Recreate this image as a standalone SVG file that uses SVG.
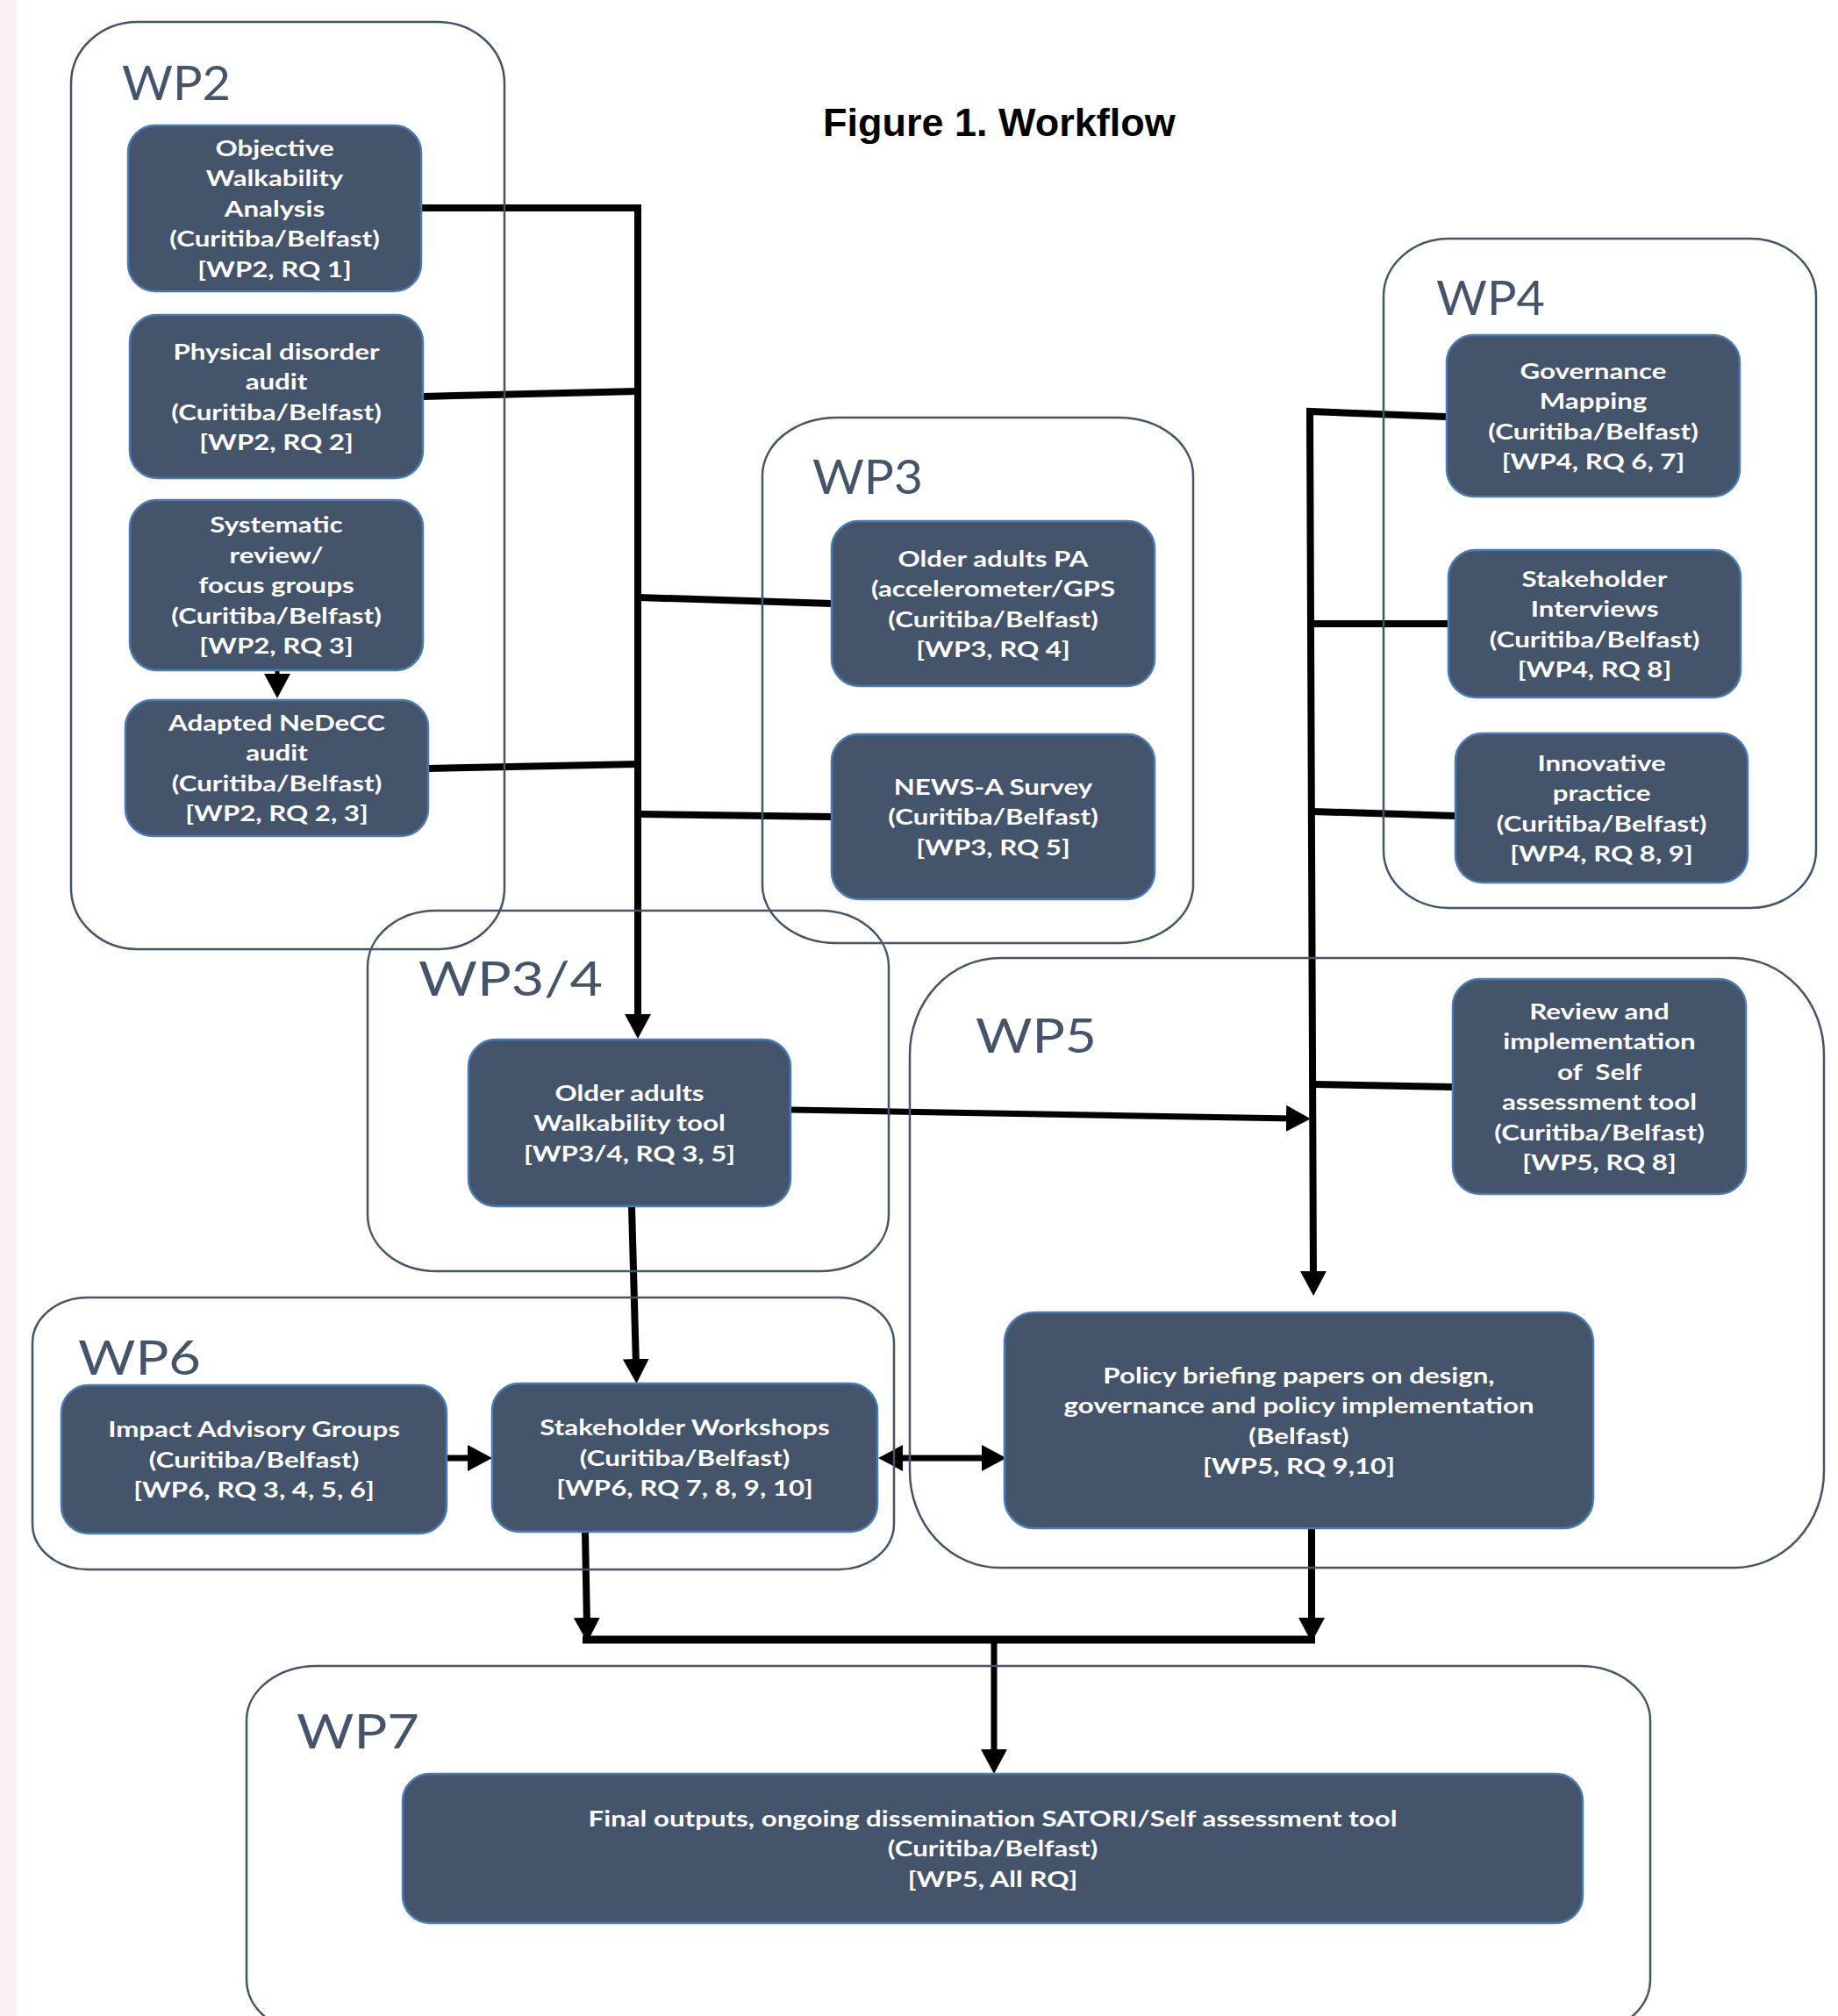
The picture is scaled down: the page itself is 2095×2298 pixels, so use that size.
<svg xmlns="http://www.w3.org/2000/svg" width="2095" height="2298" viewBox="0 0 2095 2298">
<style>
.cont{fill:none;stroke:#44546a;stroke-width:2.5}
.lbl{font-family:Lato,"Liberation Sans",sans-serif;font-weight:400;font-size:54px;fill:#44546a}
.box{fill:#44546a;stroke:#4a7ab4;stroke-width:2.5}
.nt{font-family:Lato,"Liberation Sans",sans-serif;font-weight:700;font-size:25px;fill:#ffffff;text-anchor:middle}
.c{fill:none;stroke:#000;stroke-width:8;stroke-linejoin:miter}
.title{font-family:"Liberation Sans",Arial,sans-serif;font-weight:700;font-size:45px;fill:#000}
</style>
<defs>
<marker id="ah" markerUnits="userSpaceOnUse" markerWidth="28" markerHeight="30" refX="8" refY="15" orient="auto-start-reverse" viewBox="0 0 28 30">
<path d="M0,0 L28,15 L0,30 z" fill="#000"/>
</marker>
</defs>
<rect x="0" y="0" width="2095" height="2298" fill="#ffffff"/>
<rect x="0" y="0" width="19" height="2298" fill="#fcf0f6"/>
<text class="title" x="938" y="155">Figure 1. Workflow</text>

<g id="connectors">
<path class="c" d="M480,237 H727 V1164" marker-end="url(#ah)"/>
<path class="c" d="M482,452 L727,446"/>
<path class="c" d="M488,876 L727,871"/>
<path class="c" d="M727,681 L948,688"/>
<path class="c" d="M727,928 L948,931"/>
<path class="c" style="stroke-width:5" d="M316,764 L316,776" marker-end="url(#ah)"/>
<path class="c" d="M1648,475 L1493,469 L1497,1457" marker-end="url(#ah)"/>
<path class="c" d="M1496,711 L1651,711"/>
<path class="c" d="M1496,925 L1659,930"/>
<path class="c" d="M1497,1236 L1656,1239"/>
<path class="c" style="stroke-width:7" d="M901,1265 L1474,1275" marker-end="url(#ah)"/>
<path class="c" d="M720,1375 L725,1557" marker-end="url(#ah)"/>
<path class="c" style="stroke-width:7" d="M509,1662 L541,1662" marker-end="url(#ah)"/>
<path class="c" style="stroke-width:7" d="M1021,1662 L1127,1662" marker-start="url(#ah)" marker-end="url(#ah)"/>
<path class="c" d="M667,1746 L669,1852" marker-end="url(#ah)"/>
<path class="c" d="M1495,1742 L1495,1852" marker-end="url(#ah)"/>
<path class="c" style="stroke-width:9" d="M664,1869 L1499,1869"/>
<path class="c" style="stroke-width:7" d="M1133,1869 L1133,2002" marker-end="url(#ah)"/>
</g>

<g id="wp2">
<rect class="cont" x="81" y="25" width="494" height="1057" rx="76" ry="70"/>
<text class="lbl" x="139" y="114" textLength="124" lengthAdjust="spacingAndGlyphs">WP2</text>
</g>
<g id="wp3">
<rect class="cont" x="869" y="476" width="491" height="599" rx="85" ry="66"/>
<text class="lbl" x="926" y="563" textLength="126" lengthAdjust="spacingAndGlyphs">WP3</text>
</g>
<g id="wp4">
<rect class="cont" x="1577" y="272" width="493" height="763" rx="75" ry="66"/>
<text class="lbl" x="1637" y="359" textLength="124" lengthAdjust="spacingAndGlyphs">WP4</text>
</g>
<g id="wp34">
<rect class="cont" x="419" y="1038" width="594" height="411" rx="78" ry="64"/>
<text class="lbl" x="477" y="1135" textLength="210" lengthAdjust="spacingAndGlyphs">WP3/4</text>
</g>
<g id="wp5">
<rect class="cont" x="1037" y="1092" width="1042" height="695" rx="103" ry="110"/>
<text class="lbl" x="1112" y="1200" textLength="138" lengthAdjust="spacingAndGlyphs">WP5</text>
</g>
<g id="wp6">
<rect class="cont" x="37" y="1479" width="982" height="310" rx="63" ry="52"/>
<text class="lbl" x="89" y="1567" textLength="140" lengthAdjust="spacingAndGlyphs">WP6</text>
</g>
<g id="wp7">
<rect class="cont" x="281" y="1899" width="1600" height="420" rx="80" ry="62"/>
<text class="lbl" x="338" y="1993" textLength="140" lengthAdjust="spacingAndGlyphs">WP7</text>
</g>

<g id="n-objective">
<rect class="box" x="146" y="143" width="334" height="189" rx="31"/>
<g transform="translate(313 0) scale(1.25 1)"><text class="nt"><tspan x="0" y="178">Objective</tspan><tspan x="0" y="212.5">Walkability</tspan><tspan x="0" y="247">Analysis</tspan><tspan x="0" y="281.5">(Curitiba/Belfast)</tspan><tspan x="0" y="316">[WP2, RQ 1]</tspan></text></g>
</g>
<g id="n-physical">
<rect class="box" x="148" y="359" width="334" height="186" rx="31"/>
<g transform="translate(315 0) scale(1.25 1)"><text class="nt"><tspan x="0" y="410">Physical disorder</tspan><tspan x="0" y="444.5">audit</tspan><tspan x="0" y="479">(Curitiba/Belfast)</tspan><tspan x="0" y="513.5">[WP2, RQ 2]</tspan></text></g>
</g>
<g id="n-systematic">
<rect class="box" x="148" y="570" width="334" height="194" rx="31"/>
<g transform="translate(315 0) scale(1.25 1)"><text class="nt"><tspan x="0" y="607.5">Systematic</tspan><tspan x="0" y="642">review/</tspan><tspan x="0" y="676.5">focus groups</tspan><tspan x="0" y="711">(Curitiba/Belfast)</tspan><tspan x="0" y="745.5">[WP2, RQ 3]</tspan></text></g>
</g>
<g id="n-nedecc">
<rect class="box" x="143" y="798" width="345" height="155" rx="31"/>
<g transform="translate(315.5 0) scale(1.25 1)"><text class="nt"><tspan x="0" y="833">Adapted NeDeCC</tspan><tspan x="0" y="867.5">audit</tspan><tspan x="0" y="902">(Curitiba/Belfast)</tspan><tspan x="0" y="936.5">[WP2, RQ 2, 3]</tspan></text></g>
</g>
<g id="n-pa">
<rect class="box" x="948" y="594" width="368" height="188" rx="31"/>
<g transform="translate(1132 0) scale(1.25 1)"><text class="nt"><tspan x="0" y="646">Older adults PA</tspan><tspan x="0" y="680.5">(accelerometer/GPS</tspan><tspan x="0" y="715">(Curitiba/Belfast)</tspan><tspan x="0" y="749.5">[WP3, RQ 4]</tspan></text></g>
</g>
<g id="n-news">
<rect class="box" x="948" y="837" width="368" height="188" rx="31"/>
<g transform="translate(1132 0) scale(1.25 1)"><text class="nt"><tspan x="0" y="906">NEWS-A Survey</tspan><tspan x="0" y="940.5">(Curitiba/Belfast)</tspan><tspan x="0" y="975">[WP3, RQ 5]</tspan></text></g>
</g>
<g id="n-governance">
<rect class="box" x="1649" y="382" width="334" height="184" rx="31"/>
<g transform="translate(1816 0) scale(1.25 1)"><text class="nt"><tspan x="0" y="432">Governance</tspan><tspan x="0" y="466.5">Mapping</tspan><tspan x="0" y="501">(Curitiba/Belfast)</tspan><tspan x="0" y="535.5">[WP4, RQ 6, 7]</tspan></text></g>
</g>
<g id="n-interviews">
<rect class="box" x="1651" y="627" width="333" height="168" rx="31"/>
<g transform="translate(1817.5 0) scale(1.25 1)"><text class="nt"><tspan x="0" y="669">Stakeholder</tspan><tspan x="0" y="703.5">Interviews</tspan><tspan x="0" y="738">(Curitiba/Belfast)</tspan><tspan x="0" y="772.5">[WP4, RQ 8]</tspan></text></g>
</g>
<g id="n-innovative">
<rect class="box" x="1659" y="836" width="333" height="170" rx="31"/>
<g transform="translate(1825.5 0) scale(1.25 1)"><text class="nt"><tspan x="0" y="879">Innovative</tspan><tspan x="0" y="913.5">practice</tspan><tspan x="0" y="948">(Curitiba/Belfast)</tspan><tspan x="0" y="982.5">[WP4, RQ 8, 9]</tspan></text></g>
</g>
<g id="n-tool">
<rect class="box" x="534" y="1185" width="367" height="190" rx="31"/>
<g transform="translate(717.5 0) scale(1.25 1)"><text class="nt"><tspan x="0" y="1255">Older adults</tspan><tspan x="0" y="1289.5">Walkability tool</tspan><tspan x="0" y="1324">[WP3/4, RQ 3, 5]</tspan></text></g>
</g>
<g id="n-review">
<rect class="box" x="1656" y="1116" width="334" height="245" rx="31"/>
<g transform="translate(1823 0) scale(1.25 1)"><text class="nt" xml:space="preserve"><tspan x="0" y="1162">Review and</tspan><tspan x="0" y="1196.5">implementation</tspan><tspan x="0" y="1231">of  Self</tspan><tspan x="0" y="1265.5">assessment tool</tspan><tspan x="0" y="1300">(Curitiba/Belfast)</tspan><tspan x="0" y="1334.5">[WP5, RQ 8]</tspan></text></g>
</g>
<g id="n-impact">
<rect class="box" x="70" y="1579" width="439" height="169" rx="31"/>
<g transform="translate(289.5 0) scale(1.25 1)"><text class="nt"><tspan x="0" y="1638.5">Impact Advisory Groups</tspan><tspan x="0" y="1673">(Curitiba/Belfast)</tspan><tspan x="0" y="1707.5">[WP6, RQ 3, 4, 5, 6]</tspan></text></g>
</g>
<g id="n-workshops">
<rect class="box" x="561" y="1577" width="439" height="169" rx="31"/>
<g transform="translate(780.5 0) scale(1.25 1)"><text class="nt"><tspan x="0" y="1636.5">Stakeholder Workshops</tspan><tspan x="0" y="1671">(Curitiba/Belfast)</tspan><tspan x="0" y="1705.5">[WP6, RQ 7, 8, 9, 10]</tspan></text></g>
</g>
<g id="n-policy">
<rect class="box" x="1145" y="1496" width="671" height="246" rx="34"/>
<g transform="translate(1480.5 0) scale(1.25 1)"><text class="nt"><tspan x="0" y="1577">Policy briefing papers on design,</tspan><tspan x="0" y="1611.5">governance and policy implementation</tspan><tspan x="0" y="1646">(Belfast)</tspan><tspan x="0" y="1680.5">[WP5, RQ 9,10]</tspan></text></g>
</g>
<g id="n-final">
<rect class="box" x="459" y="2022" width="1345" height="170" rx="31"/>
<g transform="translate(1131.5 0) scale(1.25 1)"><text class="nt"><tspan x="0" y="2082">Final outputs, ongoing dissemination SATORI/Self assessment tool</tspan><tspan x="0" y="2116.5">(Curitiba/Belfast)</tspan><tspan x="0" y="2151">[WP5, All RQ]</tspan></text></g>
</g>
</svg>
